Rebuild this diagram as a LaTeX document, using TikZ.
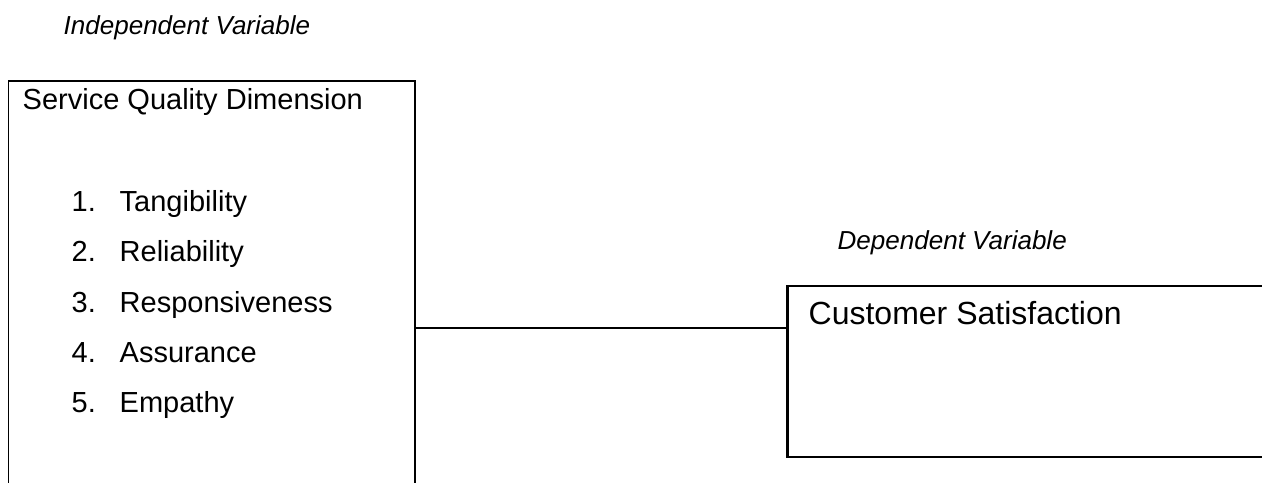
\documentclass[tikz,border=0pt]{standalone}
\usepackage{fontspec}
\setmainfont{Liberation Sans}
\usepackage{tikz}

\tikzset{
  label/.style={anchor=base west, inner sep=0pt, font=\fontsize{8.25}{10}\selectfont},
  varname/.style={anchor=base west, inner sep=0pt, font=\fontsize{7.4}{9}\selectfont\itshape},
  box/.style={draw, rectangle, inner sep=0pt, anchor=north west},
}

\begin{document}
\begin{tikzpicture}[x=0.01cm, y=-0.01cm]
\useasboundingbox (0,0) rectangle (1262,483);
\clip (0,0) rectangle (1262,483);
\fill[white] (0,0) rectangle (1262,483);

% Independent variable
\node[varname] (iv) at (63,35) {Independent Variable};
\node[box, line width=0.4pt, minimum width=4.06cm, minimum height=4.3cm] (sqd) at (8,80.5) {};
\node[label] (sqdtitle) at (22,110) {Service Quality Dimension};
\node[label] (n1) at (71,211.5) {1.};
\node[label] (d1) at (119,211.5) {Tangibility};
\node[label] (n2) at (71,262) {2.};
\node[label] (d2) at (119,262) {Reliability};
\node[label] (n3) at (71,312.5) {3.};
\node[label] (d3) at (119,312.5) {Responsiveness};
\node[label] (n4) at (71,363) {4.};
\node[label] (d4) at (119,363) {Assurance};
\node[label] (n5) at (71,413) {5.};
\node[label] (d5) at (119,413) {Empathy};

% Dependent variable
\node[varname] (dv) at (837,250) {Dependent Variable};
\node[box, line width=0.6pt, minimum width=5cm, minimum height=1.71cm] (cs) at (786.5,285) {};
\node[label, font=\fontsize{9.1}{11}\selectfont] (cstitle) at (808,325) {Customer Satisfaction};

% Link
\coordinate (link) at (600,328);
\draw[line width=0.4pt] (sqd.east |- link) -- (cs.west |- link);
\end{tikzpicture}
\end{document}
